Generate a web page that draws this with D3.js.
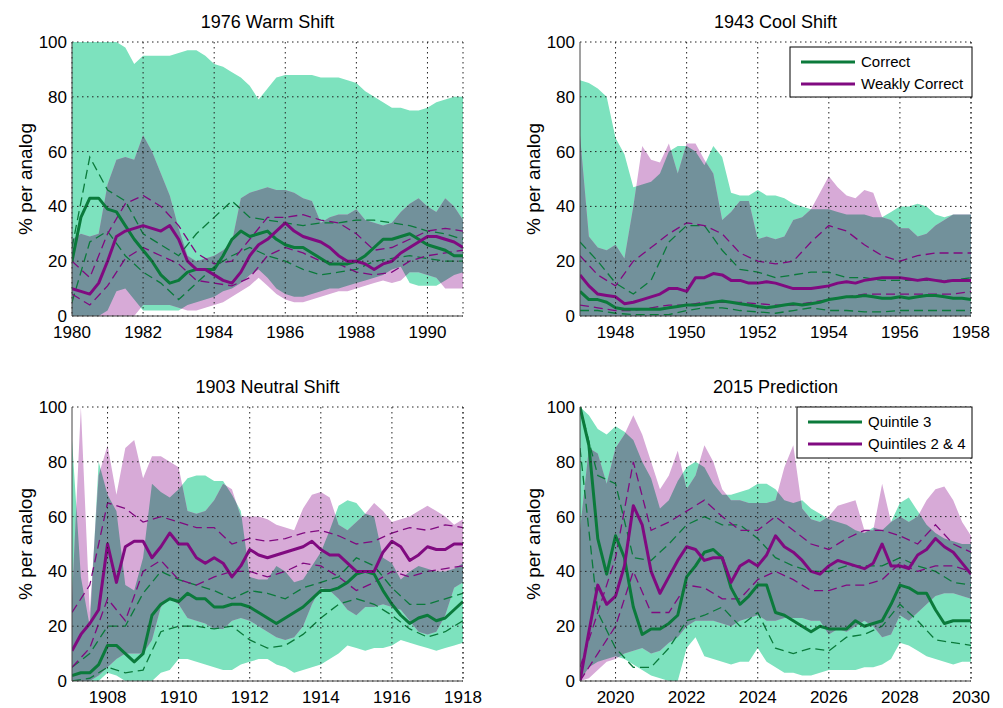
<!DOCTYPE html>
<html>
<head>
<meta charset="utf-8">
<script src="https://cdn.jsdelivr.net/npm/d3@7"></script>
<style>
  body { margin: 0; background: #fff; }
  svg text { font-family: "Liberation Sans", Arial, sans-serif; fill: #000; }
</style>
</head>
<body>
<svg id="fig" width="1003" height="708"></svg>
<script>
// ---- data (quarter-year samples for bands & medians, half-year for quartiles) ----
// 1976 Warm Shift, 1980-1991
const warmGreenHi = [100,100,100,100,100,100,98,92, 95,95,95,95,96,97,97,95, 92,91,89,87,84,79,83,87, 88,88,88,88,87,87,87,86, 85,82,80,78,76,76,75,75, 76,78,79,80,80];
const warmGreenLo = [0,0,0,0,2,9,10,6, 2,2,2,2,2,4,5,6, 7,9,10,12,15,17,14,10, 8,7,7,8,9,10,10,11, 12,13,14,15,17,18,12,11, 11,11,13,15,16];
const warmPurpleHi = [28,30,29,30,48,57,58,57, 66,60,52,44,32,22,20,21, 22,24,27,43,45,46,47,46, 46,45,43,42,34,36,37,37, 39,35,34,33,34,38,41,43, 40,38,43,40,35];
const warmPurpleLo = [0,0,0,0,0,0,0,0, 4,4,4,4,3,2,2,3, 4,5,7,9,11,14,11,8, 6,5,5,6,7,8,9,9, 10,11,12,13,12,13,16,16, 15,14,10,10,10];
const warmGreenMed = [20,36,43,43,39,38,33,28, 24,20,15,12,13,16,17,17, 17,22,28,31,29,30,31,28, 26,25,25,23,21,19,19,19, 20,22,25,28,28,29,30,28, 26,25,24,22,22];
const warmPurpleMed = [10,9,8,12,20,29,31,32, 33,32,31,33,28,20,17,17, 15,13,12,16,22,26,28,31, 34,31,29,28,27,25,22,20, 20,19,17,19,20,23,25,27, 29,29,28,27,25];
const warmGreenQ3 = [25,58,46,42,30,26,22,30,36,42,36,35,34,33,34,34,35,35,34,33,31,30,28];
const warmGreenQ1 = [5,27,31,22,16,12,6,12,18,22,25,22,20,17,15,16,17,20,21,22,21,20,20];
const warmPurpleQ3 = [20,14,30,41,44,40,33,23,19,20,28,36,36,37,35,34,30,24,25,28,31,32,31];
const warmPurpleQ1 = [8,4,11,21,25,22,19,13,12,11,14,22,25,23,20,19,16,15,16,20,22,23,24];

// 1943 Cool Shift, 1947-1958
const coolGreenHi = [86,85,83,80, 65,59,47,48, 49,52,60,62, 62,60,55,62, 58,45,44,44, 46,44,44,43, 41,40,39,39, 39,38,37,37, 37,36,36,38, 40,40,41,40, 37,36,37,37, 37];
const coolGreenLo = [0,0,0,0, 0,0,0,0, 0,0,0,0, 0,0,0,0, 0,0,0,0, 0,0,0,0, 0,0,0,0, 0,0,0,0, 0,0,0,0, 0,0,0,0, 0,0,0,0, 0];
const coolPurpleHi = [66,29,25,24, 26,21,40,62, 57,56,63,52, 63,63,57,52, 35,38,42,42, 28,29,28,29, 35,36,39,45, 51,47,44,43, 46,45,36,35, 32,32,29,30, 33,35,37,37, 37];
const coolPurpleLo = [0,0,0,0, 0,0,0,0, 0,0,0,0, 0,0,0,0, 0,0,0,0, 0,0,0,0, 0,0,0,0, 0,0,0,0, 0,0,0,0, 0,0,0,0, 0,0,0,0, 0];
const coolGreenMed = [9,6,6,5, 3,2.5,2.5,2.5, 2.5,2.5,3,3.5, 4,4,4.5,5, 5.5,5,4.5,4, 3.5,3,3.5,4, 4.5,4,4.5,5, 6,6.5,7,7, 7.5,7,6.5,6.5, 7,6.5,7,7.5, 7.5,7,6.5,6.5, 6];
const coolPurpleMed = [15,11,8,7.5, 7,4.5,5,6, 7,8,10,10, 9,14,14,15.5, 15,13,13,12, 12,12.5,12,11, 10,10,10,10.5, 11,12,12.5,12, 13,13.5,14,14, 14,13.5,13,13.5, 13,12.5,13,13, 13];
const coolGreenQ3 = [27,20,12,8,13,27,33,33,24,17,16,14,15,16,16,14,14,13,13,13,13,13,14];
const coolGreenQ1 = [2,2,1,0.5,0.5,0.5,2,3,3,2,1.5,1,2,3,2,2,1.5,1.5,2,2,2,2,2];
const coolPurpleQ3 = [22,15,11,20,25,30,34,33,30,23,20,19,20,27,33,31,26,22,20,22,23,23,23];
const coolPurpleQ1 = [4,3,2,2,3,4,4,5,5,5,4.5,4,4,5,6,7,8,8,8,8,8,8,9];

// 1903 Neutral Shift, 1907-1918
const neutGreenHi = [88,38,20,80, 68,62,35,33, 45,72,69,67, 70,74,75,75, 73,73,68,62, 38,37,37,42, 40,36,37,42, 47,55,64,66, 65,61,60,45, 43,37,40,42, 41,40,40,41, 43];
const neutGreenLo = [0,0,0,0, 3,2,0,0, 0,0,3,4, 8,8,7,6, 5,4,4,6, 7,8,8,6, 5,3,4,5, 6,8,10,13, 12,11,12,12, 13,15,14,13, 12,11,12,13, 14];
const neutPurpleHi = [30,100,25,75, 86,68,85,88, 74,82,82,80, 78,62,61,62, 66,72,70,60, 60,60,59,57, 56,55,63,68, 69,67,57,55, 58,61,65,62, 58,59,60,62, 64,62,60,57, 59];
const neutPurpleLo = [0,0,0,2, 5,8,10,10, 10,15,27,30, 28,23,22,21, 19,19,22,23, 22,20,18,16, 15,16,20,28, 34,33,30,26, 24,27,27,28, 27,26,22,18, 17,18,24,34, 36];
const neutGreenMed = [2,3,3,6, 13,13,10,7, 10,24,28,30, 29,32,30,30, 27,27,28,28, 27,25,23,21, 23,25,27,30, 33,33,34,36, 39,40,39,33, 28,24,21,23, 24,22,23,26, 29];
const neutPurpleMed = [11,17,21,26, 50,36,49,51, 51,45,49,54, 50,50,45,43, 45,43,38,42, 48,46,45,46, 47,48,49,51, 48,46,46,43, 40,40,40,47, 51,49,44,46, 49,48,48,50, 50];
const neutGreenQ3 = [5,10,20,20,32,40,37,35,33,30,33,32,30,34,36,38,45,42,34,28,28,30,32];
const neutGreenQ1 = [0,1,5,3,4,18,20,20,19,20,15,12,13,17,23,28,30,28,24,19,16,18,22];
const neutPurpleQ3 = [25,35,65,63,58,60,58,56,56,50,52,51,52,54,55,53,50,51,54,56,55,57,56];
const neutPurpleQ1 = [5,12,30,22,40,44,37,35,38,40,40,38,40,43,42,38,33,36,40,38,40,41,42];

// 2015 Prediction, 2019-2030
const predGreenHi = [100,97,92,90, 93,91,88,80, 74,63,66,73, 78,80,78,72, 68,68,69,70, 72,72,70,66, 65,66,63,61, 59,58,57,55, 54,56,55,58, 65,67,62,57, 54,52,51,50, 50];
const predGreenLo = [0,5,7,8, 9,8,6,4, 2,1,0,0, 12,16,9,8, 7,6,7,7, 12,7,5,3, 3,2,2,3, 4,4,4,4, 5,5,6,8, 14,13,11,9, 8,7,6,7, 7];
const predPurpleHi = [55,85,83,72, 85,90,97,90, 80,70,75,84, 70,75,86,80, 70,66,66,65, 65,65,66,78, 86,63,59,58, 60,64,65,66, 55,55,72,58, 60,58,60,66, 70,71,66,58, 53];
const predPurpleLo = [0,1,4,7, 8,10,11,12, 10,11,14,16, 20,22,22,22, 21,20,22,23, 24,22,22,23, 23,23,22,22, 17,19,18,20, 22,20,16,17, 24,22,25,28, 31,32,32,31, 30];
const predGreenMed = [100,86,52,39, 53,45,27,17, 19,19,21,24, 38,42,47,48, 45,34,28,31, 35,35,25,24, 22,20,18,20, 19,19,19,22, 20,21,22,28, 35,34,32,32, 26,21,22,22, 22];
const predPurpleMed = [0,18,35,28, 31,42,64,57, 40,32,38,44, 49,48,44,45, 45,36,42,44, 42,46,53,49, 47,44,40,39, 42,44,43,42, 41,43,50,42, 42,41,46,48, 52,49,47,43, 39];
const predGreenQ3 = [100,75,72,45,44,50,57,60,57,57,52,45,42,40,40,42,42,42,45,42,40,36,35];
const predGreenQ1 = [85,25,12,5,5,12,22,24,27,20,25,12,10,12,11,16,17,20,28,22,15,14,13];
const predPurpleQ3 = [5,25,45,80,55,58,62,66,60,55,55,60,55,50,48,52,55,55,53,50,57,50,47];
const predPurpleQ1 = [0,10,20,40,25,25,35,34,30,30,37,40,37,33,33,35,35,37,43,40,42,42,40];

const yTicks = [0, 20, 40, 60, 80, 100];

const panels = [
  { title: "1976 Warm Shift", start: 1980, left: 72, top: 42,
    gHi: warmGreenHi, gLo: warmGreenLo, pHi: warmPurpleHi, pLo: warmPurpleLo,
    gMed: warmGreenMed, pMed: warmPurpleMed,
    gQ: [warmGreenQ3, warmGreenQ1], pQ: [warmPurpleQ3, warmPurpleQ1] },
  { title: "1943 Cool Shift", start: 1947, left: 580, top: 42,
    gHi: coolGreenHi, gLo: coolGreenLo, pHi: coolPurpleHi, pLo: coolPurpleLo,
    gMed: coolGreenMed, pMed: coolPurpleMed,
    gQ: [coolGreenQ3, coolGreenQ1], pQ: [coolPurpleQ3, coolPurpleQ1],
    legend: ["Correct", "Weakly Correct"], legendBox: [790, 47, 182, 50] },
  { title: "1903 Neutral Shift", start: 1907, left: 72, top: 407,
    gHi: neutGreenHi, gLo: neutGreenLo, pHi: neutPurpleHi, pLo: neutPurpleLo,
    gMed: neutGreenMed, pMed: neutPurpleMed,
    gQ: [neutGreenQ3, neutGreenQ1], pQ: [neutPurpleQ3, neutPurpleQ1] },
  { title: "2015 Prediction", start: 2019, left: 580, top: 407,
    gHi: predGreenHi, gLo: predGreenLo, pHi: predPurpleHi, pLo: predPurpleLo,
    gMed: predGreenMed, pMed: predPurpleMed,
    gQ: [predGreenQ3, predGreenQ1], pQ: [predPurpleQ3, predPurpleQ1],
    legend: ["Quintile 3", "Quintiles 2 & 4"], legendBox: [797, 407, 175, 51] }
];

const W = 391, H = 274, SPAN = 11;
const greenFill = "#7de2be", pinkFill = "#d7aad7", overlapFill = "#72919b";
const greenLine = "#0b7a3b", purpleLine = "#800a80";

const svg = d3.select("#fig");
const defs = svg.append("defs");

panels.forEach((p, i) => {
  const x = d3.scaleLinear().domain([p.start, p.start + SPAN]).range([p.left, p.left + W]);
  const y = d3.scaleLinear().domain([0, 100]).range([p.top + H, p.top]);
  const quarter = d3.range(p.start, p.start + SPAN + 0.001, 0.25);
  const half = d3.range(p.start, p.start + SPAN + 0.001, 0.5);
  const xTicks = d3.range(Math.ceil(p.start / 2) * 2, p.start + SPAN + 0.001, 2);

  const band = (lo, hi) => d3.area()
    .x((d, j) => x(quarter[j]))
    .y0((d, j) => y(lo[j]))
    .y1((d, j) => y(hi[j]))(quarter);

  defs.append("clipPath").attr("id", "plot" + i)
    .append("rect").attr("x", p.left).attr("y", p.top).attr("width", W).attr("height", H);
  defs.append("clipPath").attr("id", "gband" + i)
    .append("path").attr("d", band(p.gLo, p.gHi));

  const g = svg.append("g").attr("clip-path", `url(#plot${i})`);

  g.append("path").attr("d", band(p.gLo, p.gHi)).attr("fill", greenFill);
  g.append("path").attr("d", band(p.pLo, p.pHi)).attr("fill", pinkFill);
  // overlap of the two bands
  g.append("g").attr("clip-path", `url(#gband${i})`)
    .append("path").attr("d", band(p.pLo, p.pHi)).attr("fill", overlapFill);

  const lineQ = d3.line().x((d, j) => x(quarter[j])).y(d => y(d));
  const lineH = d3.line().x((d, j) => x(half[j])).y(d => y(d));

  p.gQ.forEach(s => g.append("path").attr("d", lineH(s)).attr("fill", "none")
    .attr("stroke", greenLine).attr("stroke-width", 1.3).attr("stroke-dasharray", "9,5"));
  p.pQ.forEach(s => g.append("path").attr("d", lineH(s)).attr("fill", "none")
    .attr("stroke", purpleLine).attr("stroke-width", 1.3).attr("stroke-dasharray", "9,5"));

  g.append("path").attr("d", lineQ(p.gMed)).attr("fill", "none")
    .attr("stroke", greenLine).attr("stroke-width", 3).attr("stroke-linejoin", "round");
  g.append("path").attr("d", lineQ(p.pMed)).attr("fill", "none")
    .attr("stroke", purpleLine).attr("stroke-width", 3).attr("stroke-linejoin", "round");

  // dotted grid + box top/right
  const grid = svg.append("g").attr("stroke", "#222").attr("stroke-width", 1)
    .attr("stroke-dasharray", "1.5,3.5");
  xTicks.forEach(t => grid.append("line")
    .attr("x1", x(t)).attr("x2", x(t)).attr("y1", p.top).attr("y2", p.top + H));
  yTicks.forEach(t => grid.append("line")
    .attr("x1", p.left).attr("x2", p.left + W).attr("y1", y(t)).attr("y2", y(t)));
  grid.append("line").attr("x1", p.left + W).attr("x2", p.left + W)
    .attr("y1", p.top).attr("y2", p.top + H);

  // solid axes
  svg.append("line").attr("x1", p.left).attr("x2", p.left)
    .attr("y1", p.top).attr("y2", p.top + H).attr("stroke", "#444");
  svg.append("line").attr("x1", p.left).attr("x2", p.left + W)
    .attr("y1", p.top + H).attr("y2", p.top + H).attr("stroke", "#444");

  svg.append("g").selectAll("text").data(yTicks).join("text")
    .attr("x", p.left - 5).attr("y", d => y(d)).attr("dy", "0.35em")
    .attr("text-anchor", "end").attr("font-size", 17).text(d => d);
  svg.append("g").selectAll("text").data(xTicks).join("text")
    .attr("x", d => x(d)).attr("y", p.top + H + 22)
    .attr("text-anchor", "middle").attr("font-size", 17).text(d => d);

  svg.append("text").attr("x", p.left + W / 2).attr("y", p.top - 14)
    .attr("text-anchor", "middle").attr("font-size", 18).text(p.title);
  svg.append("text")
    .attr("transform", `translate(${p.left - 47},${p.top + H / 2}) rotate(-90)`)
    .attr("text-anchor", "middle").attr("dominant-baseline", "central")
    .attr("font-size", 19).text("% per analog");

  if (p.legend) {
    const [bx, by, bw, bh] = p.legendBox;
    const lg = svg.append("g");
    lg.append("rect").attr("x", bx).attr("y", by).attr("width", bw).attr("height", bh)
      .attr("fill", "#fff").attr("stroke", "#000").attr("stroke-width", 1);
    [greenLine, purpleLine].forEach((c, k) => {
      const ly = by + 15 + k * 22;
      lg.append("line").attr("x1", bx + 11).attr("x2", bx + 65)
        .attr("y1", ly).attr("y2", ly).attr("stroke", c).attr("stroke-width", 3);
      lg.append("text").attr("x", bx + 71).attr("y", ly).attr("dy", "0.35em")
        .attr("font-size", 15).text(p.legend[k]);
    });
  }
});
</script>
</body>
</html>
